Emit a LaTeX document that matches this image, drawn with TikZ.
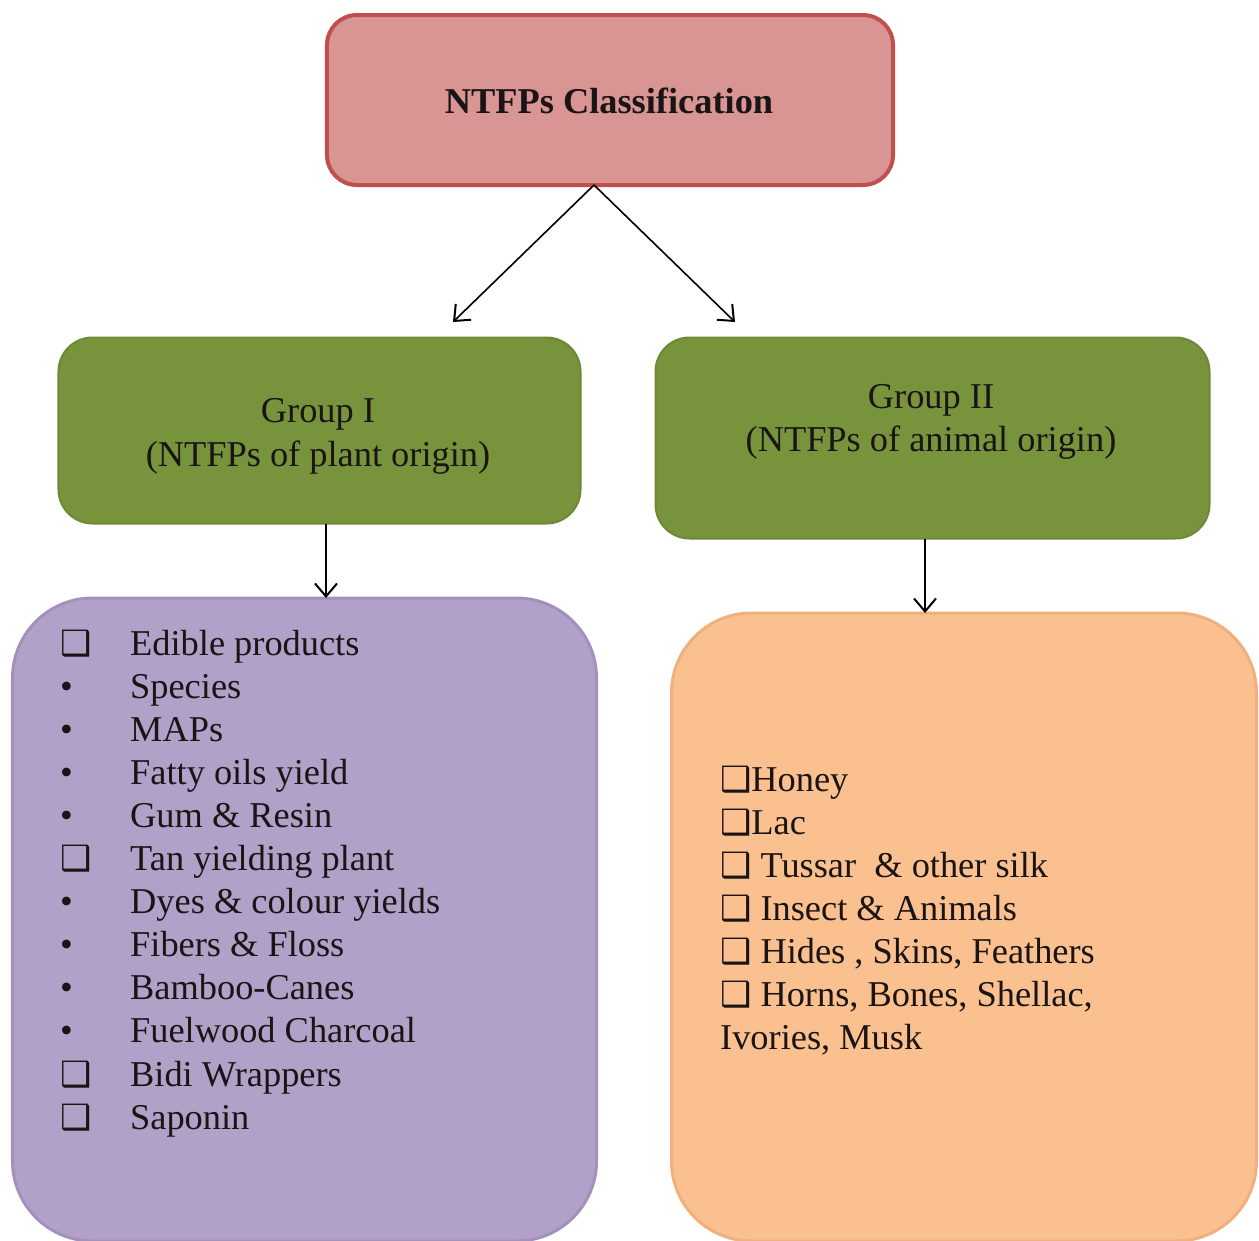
\documentclass[tikz,border=0pt]{standalone}
\usepackage{fontspec}
\setmainfont{Liberation Serif}
\newfontfamily\symfont{DejaVu Sans}
\usetikzlibrary{arrows.meta}
\definecolor{topfill}{HTML}{D99594}
\definecolor{topline}{HTML}{C0504D}
\definecolor{grfill}{HTML}{77933C}
\definecolor{grline}{HTML}{6E8836}
\definecolor{pufill}{HTML}{B1A0C7}
\definecolor{puline}{HTML}{A391BC}
\definecolor{orfill}{HTML}{FAC090}
\definecolor{orline}{HTML}{EFB07E}
\definecolor{txt}{HTML}{1A1414}
\tikzset{
  boxbase/.style={rectangle, inner sep=0pt, outer sep=0pt},
  topbox/.style={boxbase, fill=topfill, draw=topline, line width=4bp, rounded corners=30bp},
  grbox/.style={boxbase, fill=grfill, draw=grline, line width=2bp, rounded corners=34bp},
  pubox/.style={boxbase, fill=pufill, draw=puline, line width=3bp, rounded corners=80bp},
  orbox/.style={boxbase, fill=orfill, draw=orline, line width=3bp, rounded corners=80bp},
  arr/.style={line width=1.6bp, -{Straight Barb[length=13bp,width=22bp,line width=2bp]}},
  body/.style={inner sep=0pt, text=txt, font=\fontsize{36.5}{42}\selectfont},
  item/.style={body, anchor=base west},
}
\newcommand{\sqm}{{\symfont\fontsize{35}{35}\selectfont ❑}}
\newcommand{\bul}{•}
\begin{document}
\begin{tikzpicture}[x=1bp,y=-1bp]
\useasboundingbox (0,0) rectangle (1259,1241);
% boxes
\node[topbox, minimum width=566bp, minimum height=170bp] (top) at (610,100) {};
\node[body, anchor=base, font=\fontsize{36.5}{40}\selectfont\bfseries] (toptxt) at (609,113) {NTFPs Classification};
\node[grbox, minimum width=522bp, minimum height=186bp] (g1) at (319.5,430.5) {};
\node[grbox, minimum width=554bp, minimum height=201bp] (g2) at (932.5,438) {};
\node[body, anchor=base] (g1t1) at (318,422) {Group I};
\node[body, anchor=base] (g1t2) at (318,466) {(NTFPs of plant origin)};
\node[body, anchor=base] (g2t1) at (931,408) {Group II};
\node[body, anchor=base] (g2t2) at (931,451) {(NTFPs of animal origin)};
\node[pubox, minimum width=584bp, minimum height=643bp] (pu) at (304.5,919.5) {};
\node[orbox, minimum width=585bp, minimum height=628bp] (or) at (964,927) {};
% arrows
\coordinate (a1) at (453,322);
\coordinate (a2) at (735,322);
\draw[arr] ([xshift=-16bp]top.south) -- (a1);
\draw[arr] ([xshift=-16bp]top.south) -- (a2);
\draw[arr] (g1.south -| 326,0) -- (pu.north -| 326,0);
\draw[arr] (g2.south -| 925,0) -- (or.north -| 925,0);
% left list
\foreach \m/\t [count=\i] in {\sqm/Edible products, \bul/Species, \bul/MAPs, \bul/Fatty oils yield, \bul/Gum \& Resin, \sqm/Tan yielding plant, \bul/Dyes \& colour yields, \bul/Fibers \& Floss, \bul/Bamboo-Canes, \bul/Fuelwood Charcoal, \sqm/Bidi Wrappers, \sqm/Saponin}{
  \node[item] (lm\i) at (60,{655+43.1*(\i-1)}) {\m};
  \node[item] (lt\i) at (130,{655+43.1*(\i-1)}) {\t};
}
% right list
\node[item] (r1) at (720,791) {\sqm Honey};
\node[item] (r2) at (720,834) {\sqm Lac};
\node[item] (r3) at (720,877) {\sqm\ Tussar\ \ \& other silk};
\node[item] (r4) at (720,920) {\sqm\ Insect \& Animals};
\node[item] (r5) at (720,963) {\sqm\ Hides , Skins, Feathers};
\node[item] (r6) at (720,1006) {\sqm\ Horns, Bones, Shellac,};
\node[item] (r7) at (720,1049) {Ivories, Musk};
\end{tikzpicture}
\end{document}
